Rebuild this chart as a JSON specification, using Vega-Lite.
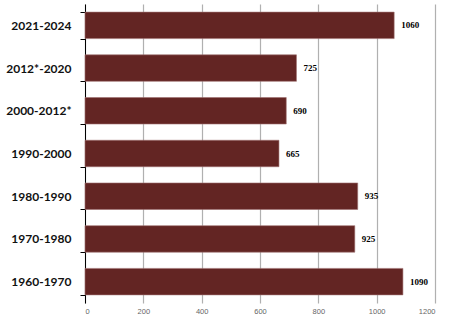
{
  "$schema": "https://vega.github.io/schema/vega-lite/v6.json",
  "width": 350,
  "height": 299,
  "autosize": {"type": "none"},
  "padding": {"left": 85, "top": 4, "right": 19, "bottom": 19},
  "background": "white",
  "data": {"values": [
    {"period": "2021-2024", "value": 1060},
    {"period": "2012*-2020", "value": 725},
    {"period": "2000-2012*", "value": 690},
    {"period": "1990-2000", "value": 665},
    {"period": "1980-1990", "value": 935},
    {"period": "1970-1980", "value": 925},
    {"period": "1960-1970", "value": 1090}
  ]},
  "encoding": {
    "y": {"field": "period", "type": "nominal", "sort": null,
      "scale": {"paddingInner": 0.38, "paddingOuter": 0.19},
      "axis": {"title": null, "tickBand": "extent", "domainColor": "#000", "tickColor": "#000", "tickSize": 5, "labelFont": "Lato", "labelFontWeight": "bold", "labelFontSize": 12, "labelColor": "#111", "labelPadding": 9, "grid": false}},
    "x": {"field": "value", "type": "quantitative",
      "scale": {"domain": [0, 1200], "nice": false},
      "axis": {"title": null, "values": [0,200,400,600,800,1000,1200], "format": "d", "domain": false, "ticks": false, "grid": true, "gridColor": "#b0b0b0", "gridWidth": 1.2, "labelFont": "Liberation Sans", "labelFontSize": 7.5, "labelColor": "#666", "labelPadding": 4}}
  },
  "layer": [
    {"mark": {"type": "bar", "color": "#632523", "stroke": "#a07070", "strokeWidth": 0.6}},
    {"mark": {"type": "text", "align": "left", "dx": 7, "font": "Liberation Serif", "fontWeight": "bold", "fontSize": 9, "color": "#000"},
     "encoding": {"text": {"field": "value", "type": "quantitative", "format": "d"}}}
  ],
  "config": {"view": {"stroke": null}}
}
